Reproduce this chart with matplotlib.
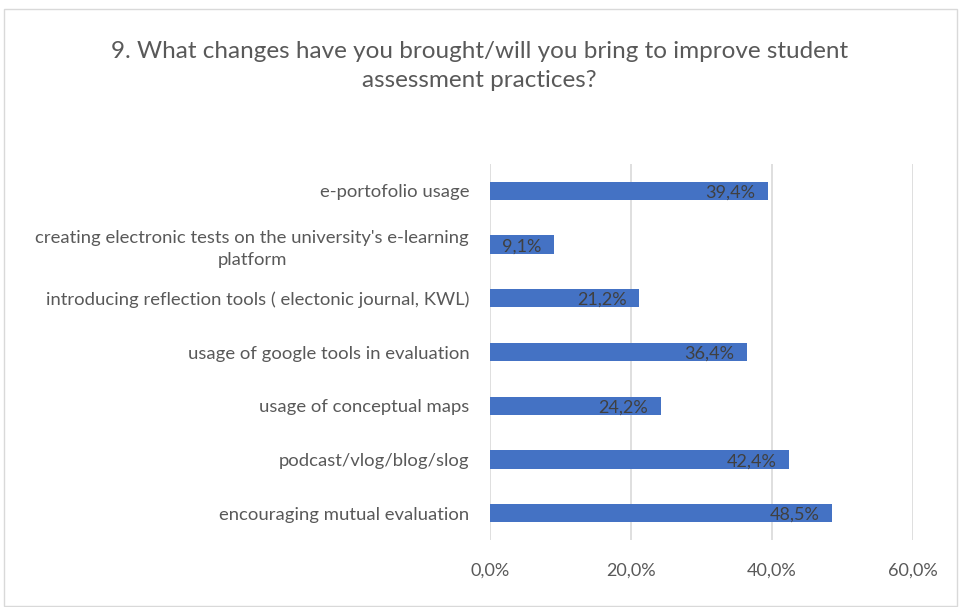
import matplotlib
matplotlib.use("Agg")
import matplotlib.pyplot as plt
from matplotlib.patches import Rectangle

categories = [
    "e-portofolio usage",
    "creating electronic tests on the university's e-learning\nplatform",
    "introducing reflection tools ( electonic journal, KWL)",
    "usage of google tools in evaluation",
    "usage of conceptual maps",
    "podcast/vlog/blog/slog",
    "encouraging mutual evaluation",
]
values = [39.4, 9.1, 21.2, 36.4, 24.2, 42.4, 48.5]
xticks = [0, 20, 40, 60]
xtick_labels = ["0,0%", "20,0%", "40,0%", "60,0%"]
title = "9. What changes have you brought/will you bring to improve student\nassessment practices?"

plt.rcParams['font.family'] = ['Lato', 'DejaVu Sans']

fig = plt.figure(figsize=(9.59, 6.07), dpi=100)
ax = fig.add_axes([0.511, 0.110, 0.441, 0.620])

n = len(categories)
ypos = list(range(n))[::-1]
ax.barh(ypos, values, height=0.34, color="#4472C4", zorder=3)
for y, v in zip(ypos, values):
    ax.text(v - 1.8, y - 0.03, f"{v:.1f}%".replace(".", ","), ha="right", va="center",
            fontsize=13, color="#404040", zorder=4)

ax.set_xlim(0, 60)
ax.set_ylim(-0.5, n - 0.5)
ax.set_xticks(xticks)
ax.set_xticklabels(xtick_labels, fontsize=13, color="#595959")
ax.set_yticks(ypos)
ax.set_yticklabels(categories, fontsize=13.3, color="#595959", ha="right",
                   linespacing=1.45)
for lbl in ax.get_yticklabels():
    lbl.set_multialignment("center")
ax.tick_params(axis="both", length=0)
ax.tick_params(axis="x", pad=16)
ax.tick_params(axis="y", pad=15)
ax.grid(axis="x", color="#d9d9d9", linewidth=1.2, zorder=0)
for s in ax.spines.values():
    s.set_visible(False)

fig.text(0.5, 0.891, title, ha="center", va="center", fontsize=17.5,
         color="#595959", linespacing=1.5)

fig.patches.append(Rectangle((4/959, 1/607), 953/959, 597/607, transform=fig.transFigure,
                             fill=False, edgecolor="#d9d9d9", linewidth=1))

fig.savefig("out.png", dpi=100)
